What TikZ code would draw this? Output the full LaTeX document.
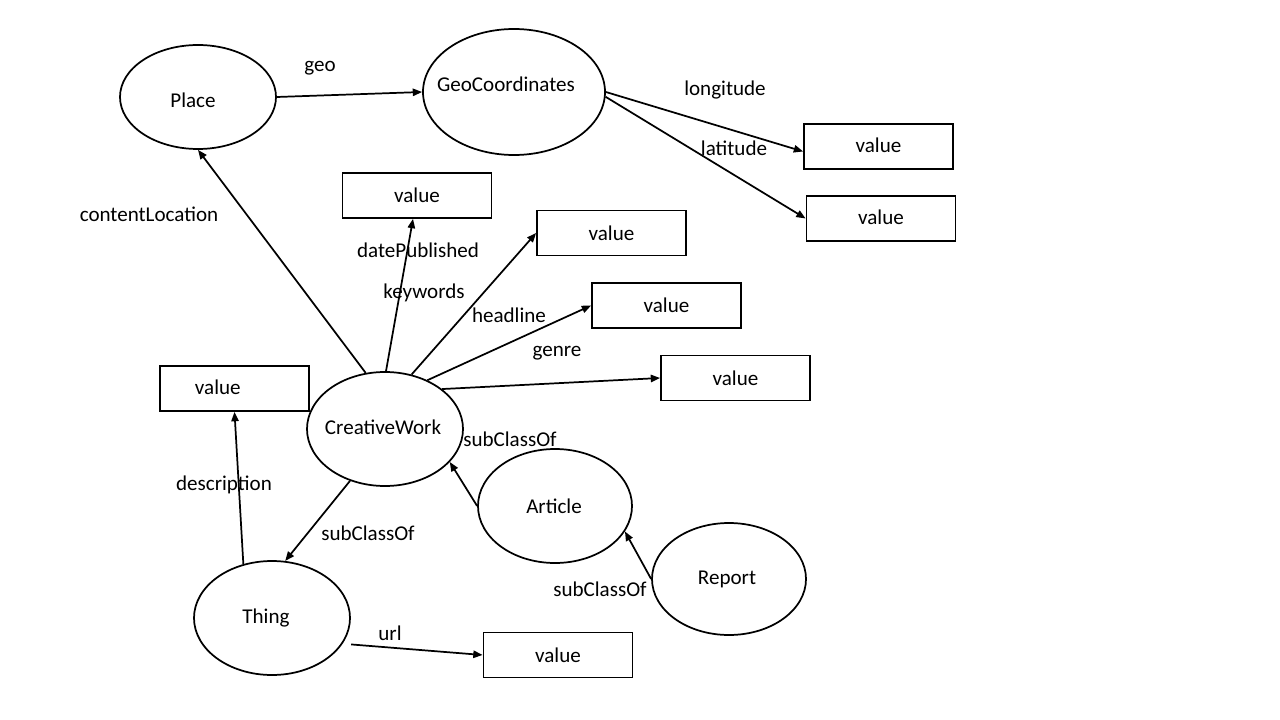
\documentclass[tikz,border=0pt]{standalone}
\usepackage{fontspec}
\setmainfont{Carlito}
\usetikzlibrary{shapes.geometric,arrows.meta,calc}
\begin{document}
\begin{tikzpicture}[x=0.75pt,y=-0.75pt,
  every node/.style={font=\fontsize{15.8pt}{18pt}\selectfont, inner sep=0pt},
  cls/.style={draw, ellipse, line width=1.3pt},
  valbox/.style={draw, rectangle, line width=1.3pt, minimum width=111.75pt, minimum height=33.75pt},
  lbl/.style={},
  arr/.style={line width=1.3pt, -{Triangle[length=7pt,width=5.5pt]}}]
\useasboundingbox (0,0) rectangle (1280,720);
% classes
\node[cls, minimum width=117pt, minimum height=78pt] (place) at (198,97) {};
\node[cls, minimum width=136.5pt, minimum height=94.5pt] (geo) at (514,92) {};
\node[cls, minimum width=117pt, minimum height=85.5pt] (cw) at (385,429) {};
\node[cls, minimum width=115.5pt, minimum height=85.5pt] (art) at (555,506) {};
\node[cls, minimum width=115.5pt, minimum height=84pt] (rep) at (729,579) {};
\node[cls, minimum width=117pt, minimum height=85.5pt] (thing) at (272,618) {};
\node (tplace) at (193,100) {Place};
\node (tgeo) at (506,84) {GeoCoordinates};
\node (tcw) at (383,427) {CreativeWork};
\node (tart) at (554,506) {Article};
\node (trep) at (727,579) {Report};
\node (tthing) at (266,618) {Thing};
% value boxes
\node[valbox] (lon) at (878.5,146.5) {\raisebox{2pt}{value}};
\node[valbox] (lat) at (881,218.5) {\raisebox{2pt}{value}};
\node[valbox] (dp) at (417,195.5) {value};
\node[valbox] (hl) at (611.5,233) {value};
\node[valbox] (b3) at (666.5,305.5) {\raisebox{1pt}{value}};
\node[valbox] (b4) at (735.5,378) {value};
\node[valbox] (desc) at (234.5,388.5) {\raisebox{2pt}{\hspace*{-25pt}value}};
\node[valbox] (url) at (558,655) {value};
% connectors
\draw[arr] (place.east) -- (geo.west);
\draw[arr] (geo.east) -- ($(lon.west)+(0,5)$);
\draw[arr] (geo.-3) -- (lat.west);
\draw[arr] (cw.109) -- (place.south);
\draw[arr] (cw.89) -- ($(dp.south)+(-4,0)$);
\draw[arr] (cw.64) -- (hl.west);
\draw[arr] (cw.49) -- (b3.west);
\draw[arr] (cw.35) -- (b4.west);
\draw[arr] (art.west) -- (cw.-27);
\draw[arr] (rep.west) -- (art.-20);
\draw[arr] (cw.-124) -- (thing.77);
\draw[arr] (thing.118) -- (desc.south);
\draw[arr] ($(thing.-18)+(7,3)$) -- (url.west);
% labels
\node[lbl] (lgeo) at (320,68) {geo};
\node[lbl] (llon) at (725,90) {longitude};
\node[lbl] (llat) at (734,148) {latitude};
\node[lbl] (lcl) at (149,214) {contentLocation};
\node[lbl] (ldp) at (418,250) {datePublished};
\node[lbl] (lkw) at (424,293) {keywords};
\node[lbl] (lhl) at (509,315) {headline};
\node[lbl] (lgen) at (557,353) {genre};
\node[lbl] (lsc1) at (510,439) {subClassOf};
\node[lbl] (lsc2) at (600,589) {subClassOf};
\node[lbl] (lsc3) at (368,533) {subClassOf};
\node[lbl] (ldesc) at (224,485) {description};
\node[lbl] (lurl) at (390,633) {url};
\end{tikzpicture}
\end{document}
